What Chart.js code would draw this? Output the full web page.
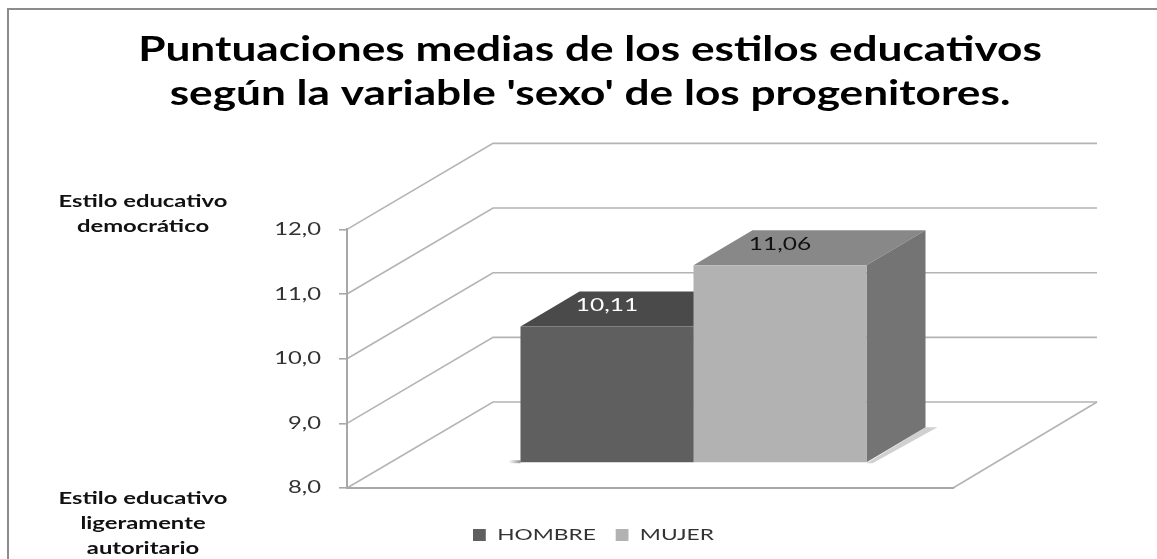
<!DOCTYPE html>
<html><head><meta charset="utf-8">
<style>html,body{margin:0;padding:0;background:#fff}canvas{display:block}</style>
<script src="https://cdn.jsdelivr.net/npm/chart.js@4"></script>
</head><body><canvas id="c" width="1157" height="559"></canvas>
<script>
const titleLines = ["Puntuaciones medias de los estilos educativos", "según la variable 'sexo' de los progenitores."];
const categories = [""];
const seriesNames = ["HOMBRE", "MUJER"];
const hombreValues = [10.11];
const mujerValues = [11.06];
const yTicks = [8, 9, 10, 11, 12];
const upperNote = ["Estilo educativo", "democrático"];
const lowerNote = ["Estilo educativo", "ligeramente", "autoritario"];

const FONT = 'Lato';
const WALL = {dx: 146, dy: -86, w: 604};
const BAR = {sx: 43.5, sy: -25, dx: 59, dy: -35};
const faces = [
  {front: '#5f5f5f', top: '#4a4a4a', side: '#747474', label: '#ffffff'},
  {front: '#b2b2b2', top: '#888888', side: '#747474', label: '#111111'}
];
const comma = (v, d) => v.toFixed(d).replace('.', ',');

function stretch(obj, method, sx, anchor, tx, ty) {
  const orig = obj[method].bind(obj);
  obj[method] = function (...a) {
    const ctx = obj.ctx;
    ctx.save();
    ctx.translate(anchor() + (tx || 0), ty || 0);
    ctx.scale(sx, 1);
    ctx.translate(-anchor(), 0);
    orig(...a);
    ctx.restore();
  };
}
function stretchedText(ctx, text, x, y, font, color, sx) {
  ctx.save();
  ctx.font = font; ctx.fillStyle = color;
  ctx.textAlign = 'center'; ctx.textBaseline = 'middle';
  ctx.translate(x, y); ctx.scale(sx, 1);
  ctx.fillText(text, 0, 0);
  ctx.restore();
}
function poly(ctx, pts, fill) {
  ctx.beginPath();
  pts.forEach((p, i) => i ? ctx.lineTo(p[0], p[1]) : ctx.moveTo(p[0], p[1]));
  ctx.closePath(); ctx.fillStyle = fill; ctx.fill();
}

const scene = {
  id: 'scene',
  beforeDraw(chart) {
    const {ctx, scales: {x, y}, chartArea: a} = chart;
    if (!chart.$wrapped) {
      chart.$wrapped = true;
      const tb = chart.titleBlock;
      const tc = () => (tb.left + tb.right) / 2;
      stretch(tb, 'draw', 1.3, tc, 590 - tc(), 0);
      const lg = chart.legend, l0 = lg.legendHitBoxes[0].left;
      stretch(lg, 'draw', 1.42, () => l0, 473 - l0, 25);
      stretch(y, 'drawLabels', 1.4, () => y.right - 14, -12, 0);
    }
    ctx.save();
    ctx.fillStyle = '#fff'; ctx.fillRect(0, 0, chart.width, chart.height);
    ctx.strokeStyle = '#8c8c8c'; ctx.lineWidth = 2;
    ctx.beginPath(); ctx.moveTo(8, 559); ctx.lineTo(8, 9); ctx.lineTo(1157, 9); ctx.stroke();
    // walls drawn from the value scale
    ctx.strokeStyle = '#b4b4b4'; ctx.lineWidth = 1.6;
    yTicks.forEach(t => {
      const py = y.getPixelForValue(t);
      ctx.beginPath();
      ctx.moveTo(a.left, py);
      ctx.lineTo(a.left + WALL.dx, py + WALL.dy);
      ctx.lineTo(a.left + WALL.dx + WALL.w, py + WALL.dy);
      ctx.stroke();
    });
    const base = y.getPixelForValue(8);
    ctx.beginPath();
    ctx.moveTo(a.right, base);
    ctx.lineTo(a.left + WALL.dx + WALL.w, base + WALL.dy);
    ctx.stroke();
    // notes
    upperNote.forEach((t, i) => stretchedText(ctx, t, 143, 202 + i * 24.5, 'bold 17px ' + FONT, '#111', 1.4));
    lowerNote.forEach((t, i) => stretchedText(ctx, t, 143, 499 + i * 25, 'bold 17px ' + FONT, '#111', 1.4));
    ctx.restore();
  },
  beforeDatasetsDraw(chart) {
    const ctx = chart.ctx;
    ctx.save();
    ctx.translate(BAR.sx, BAR.sy);
    chart.data.datasets.forEach((d, i) => {
      chart.getDatasetMeta(i).data.forEach(el => {
        const l = el.x - el.width / 2, r = el.x + el.width / 2, t = el.y, b = el.base;
        // soft floor shadows
        if (i === 0) {
          const g = ctx.createLinearGradient(l - 12, 0, l, 0);
          g.addColorStop(0, 'rgba(120,120,120,0)'); g.addColorStop(1, 'rgba(120,120,120,.8)');
          ctx.fillStyle = g; ctx.fillRect(l - 12, b - 2, 12, 3);
        } else {
          poly(ctx, [[r, b + 1], [r + BAR.dx, b + BAR.dy], [r + BAR.dx + 12, b + BAR.dy], [r + 6, b + 1]], 'rgba(170,170,170,.55)');
        }
        poly(ctx, [[l, t], [l + BAR.dx, t + BAR.dy], [r + BAR.dx, t + BAR.dy], [r, t]], faces[i].top);
        poly(ctx, [[r, t], [r + BAR.dx, t + BAR.dy], [r + BAR.dx, b + BAR.dy], [r, b]], faces[i].side);
      });
    });
  },
  afterDatasetsDraw(chart) {
    const ctx = chart.ctx;
    chart.data.datasets.forEach((d, i) => {
      chart.getDatasetMeta(i).data.forEach((el, k) => {
        stretchedText(ctx, comma(d.data[k], 2), el.x, el.y - 21, '18px ' + FONT, faces[i].label, 1.36);
      });
    });
    ctx.restore();
  }
};

new Chart(document.getElementById('c'), {
  type: 'bar',
  data: {
    labels: categories,
    datasets: [
      {label: seriesNames[0], data: hombreValues, backgroundColor: faces[0].front, base: 8},
      {label: seriesNames[1], data: mujerValues, backgroundColor: faces[1].front, base: 8}
    ]
  },
  plugins: [scene],
  options: {
    responsive: false, animation: false, devicePixelRatio: 1,
    layout: {padding: {left: 0, right: 204, top: 0, bottom: 31}},
    datasets: {bar: {categoryPercentage: 0.571, barPercentage: 1}},
    scales: {
      x: {
        grid: {display: false},
        border: {display: true, color: '#a8a8a8', width: 2},
        ticks: {display: false},
        afterFit: s => { s.height = 0; }
      },
      y: {
        min: 8, max: 12,
        afterFit: s => { s.width = 347; },
        afterBuildTicks: s => { s.ticks = yTicks.map(v => ({value: v})); },
        grid: {drawOnChartArea: false, tickLength: 8, color: '#a8a8a8', lineWidth: 1.6},
        border: {display: true, color: '#a8a8a8', width: 2},
        ticks: {color: '#333', padding: 6, font: {family: FONT, size: 17}, callback: v => comma(v, 1)}
      }
    },
    plugins: {
      tooltip: {enabled: false},
      title: {
        display: true, text: titleLines, color: '#000',
        font: {family: FONT, size: 34, weight: 'bold', lineHeight: 1.3},
        padding: {top: 28, bottom: 113}
      },
      legend: {
        position: 'bottom',
        labels: {color: '#333', font: {family: FONT, size: 16}, boxWidth: 9, boxHeight: 12, padding: 14}
      }
    }
  }
});
</script></body></html>
